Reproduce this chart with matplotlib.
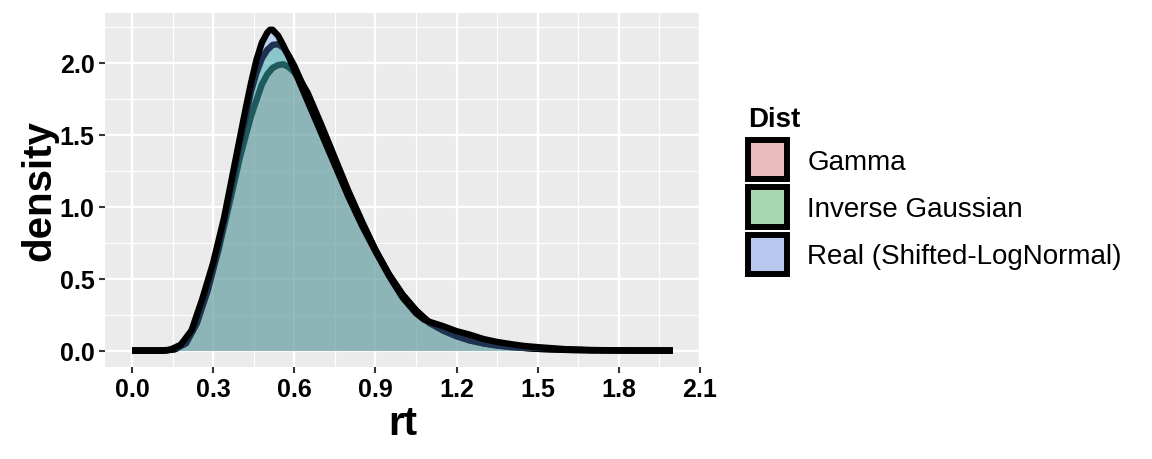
import matplotlib
matplotlib.use("Agg")
import matplotlib.pyplot as plt
from matplotlib.patches import Patch

plt.rcParams["font.family"] = ["Liberation Sans", "DejaVu Sans"]

# density curves (x = rt, y = density)
real_x = [0.00, 0.10, 0.14, 0.18, 0.22, 0.26, 0.30, 0.34, 0.38, 0.42, 0.44,
          0.46, 0.48, 0.50, 0.51, 0.52, 0.54, 0.56, 0.58, 0.60, 0.65, 0.70,
          0.75, 0.80, 0.85, 0.90, 0.95, 1.00, 1.05, 1.08, 1.10, 1.15, 1.20,
          1.25, 1.30, 1.35, 1.40, 1.45, 1.50, 1.60, 1.70, 1.80, 1.90, 2.00]
real_y = [0.0, 0.0, 0.005, 0.04, 0.14, 0.36, 0.61, 0.92, 1.30, 1.68, 1.86,
          2.02, 2.14, 2.21, 2.23, 2.23, 2.19, 2.12, 2.04, 1.95, 1.73, 1.51,
          1.29, 1.07, 0.87, 0.69, 0.52, 0.37, 0.26, 0.215, 0.20, 0.17, 0.135,
          0.11, 0.08, 0.06, 0.045, 0.032, 0.024, 0.01, 0.004, 0.001, 0.0, 0.0]

gamma_x = [0.00, 0.12, 0.16, 0.20, 0.24, 0.28, 0.32, 0.36, 0.40, 0.44, 0.48,
           0.50, 0.52, 0.54, 0.56, 0.58, 0.60, 0.625, 0.65, 0.70, 0.75, 0.80,
           0.85, 0.90, 0.95, 1.00, 1.05, 1.10, 1.15, 1.20, 1.25, 1.30, 1.35,
           1.40, 1.50, 1.60, 1.70, 1.80, 2.00]
gamma_y = [0.0, 0.0, 0.01, 0.06, 0.20, 0.42, 0.70, 1.02, 1.35, 1.63, 1.85,
           1.92, 1.965, 1.985, 1.99, 1.97, 1.935, 1.87, 1.79, 1.57, 1.34, 1.11,
           0.90, 0.70, 0.53, 0.39, 0.28, 0.19, 0.14, 0.10, 0.07, 0.05, 0.035,
           0.025, 0.012, 0.005, 0.002, 0.001, 0.0]

invg_x = [0.00, 0.12, 0.16, 0.20, 0.24, 0.28, 0.32, 0.36, 0.40, 0.44, 0.46,
          0.48, 0.50, 0.52, 0.54, 0.56, 0.58, 0.60, 0.65, 0.70, 0.75, 0.80,
          0.85, 0.90, 0.95, 1.00, 1.05, 1.10, 1.15, 1.20, 1.25, 1.30, 1.35,
          1.40, 1.50, 1.60, 1.70, 1.80, 2.00]
invg_y = [0.0, 0.0, 0.01, 0.05, 0.19, 0.42, 0.72, 1.07, 1.45, 1.80, 1.93,
          2.03, 2.09, 2.125, 2.13, 2.105, 2.05, 1.98, 1.77, 1.54, 1.32, 1.10,
          0.89, 0.70, 0.53, 0.39, 0.28, 0.195, 0.14, 0.10, 0.07, 0.05, 0.035,
          0.025, 0.012, 0.005, 0.002, 0.001, 0.0]

labels = ["Gamma", "Inverse Gaussian", "Real (Shifted-LogNormal)"]
fills = ["#F8766D", "#00BA38", "#619CFF"]
key_fills = ["#EABBBB", "#A9D7B0", "#B9C8EE"]
series = [(gamma_x, gamma_y), (invg_x, invg_y), (real_x, real_y)]
ALPHA = 0.32

fig = plt.figure(figsize=(11.52, 4.6), dpi=100)
ax = fig.add_axes([0.0911, 0.2007, 0.5165, 0.7689])
ax.set_facecolor("#EBEBEB")

for k, ((xs, ys), col) in enumerate(zip(series, fills)):
    ax.fill_between(xs, ys, 0, color=col, alpha=ALPHA, linewidth=0, zorder=2 + 2 * k)
    ax.plot(xs, ys, color="black", linewidth=4.6, solid_capstyle="butt",
            solid_joinstyle="round", zorder=3 + 2 * k)

ax.set_xlim(-0.1, 2.1)
ax.set_ylim(-0.112, 2.347)
ax.set_xticks([0.0, 0.3, 0.6, 0.9, 1.2, 1.5, 1.8, 2.1])
ax.set_xticks([0.15, 0.45, 0.75, 1.05, 1.35, 1.65, 1.95], minor=True)
ax.set_yticks([0.0, 0.5, 1.0, 1.5, 2.0])
ax.set_yticks([0.25, 0.75, 1.25, 1.75, 2.25], minor=True)
ax.grid(which="major", color="white", linewidth=1.7, zorder=0)
ax.grid(which="minor", color="white", linewidth=0.8, zorder=0)
ax.set_axisbelow(True)
for s in ax.spines.values():
    s.set_visible(False)
ax.tick_params(which="major", length=4.5, width=1.5, color="#333333",
               labelsize=18, pad=3)
ax.tick_params(which="minor", length=0)
for lab in ax.get_xticklabels() + ax.get_yticklabels():
    lab.set_fontweight("bold")
    lab.set_color("black")

ax.set_xlabel("rt", fontsize=29, fontweight="bold", labelpad=2)
ax.set_ylabel("density", fontsize=29, fontweight="bold", labelpad=1)

handles = [Patch(facecolor=c, edgecolor="black", linewidth=4.3) for c in key_fills]
leg = fig.legend(handles, labels, loc="upper left", bbox_to_anchor=(0.6398, 0.792),
                 frameon=False, fontsize=20, title="Dist",
                 title_fontproperties={"weight": "bold", "size": 20},
                 handlelength=1.405, handleheight=1.785, labelspacing=0.3,
                 handletextpad=0.72, alignment="left", borderaxespad=0)

fig.savefig("out.png", dpi=100)
